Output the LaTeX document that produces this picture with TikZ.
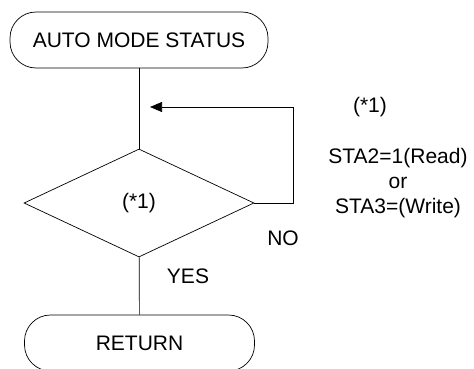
\documentclass[tikz,border=0pt]{standalone}
\usepackage{fontspec}
\setmainfont{Liberation Sans}
\usetikzlibrary{shapes.geometric,arrows.meta}

\begin{document}
\begin{tikzpicture}[x=1pt, y=-1pt, line width=0.7pt,
        every node/.style={font=\fontsize{21}{25}\selectfont},
        terminal/.style={draw, rectangle, rounded corners=26pt, minimum height=56pt, inner sep=0pt},
        decision/.style={draw, diamond, minimum width=230pt, minimum height=108pt, inner sep=0pt}]
        \useasboundingbox (0,0) rectangle (474,369);

        \node[terminal, minimum width=258pt] (start) at (139,40) {AUTO MODE STATUS};
        \node[decision] (check) at (139,203) {(*1)};
        \node[terminal, minimum width=230pt] (ret) at (139.5,343) {RETURN};

        \coordinate (turn) at (293,107);
        \coordinate (back) at (150,107);

        \draw (start) -- (check);
        \draw (check) -- (ret);
        \draw[-{Triangle[length=12pt,width=10pt]}] (check.east) -| (turn) -- (back);

        % labels
        \node (no) at (283,238) {NO};
        \node (yes) at (188,276) {YES};
        \node (note) at (370,107) {(*1)};
        \node[align=center] (cond) at (398,183) {STA2=1(Read)\\or\\STA3=(Write)};
    \end{tikzpicture}
\end{document}
